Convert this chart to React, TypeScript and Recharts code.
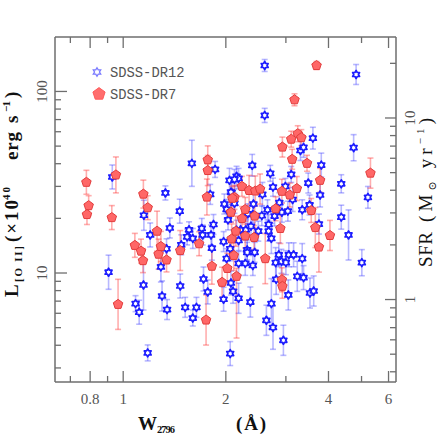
import React from 'react';
import { ScatterChart, Scatter, XAxis, YAxis, ErrorBar } from 'recharts';

const W = 447;
const H = 436;

// SDSS-DR12 absorbers: [W2796 (Å), L[OII] (1e40 erg/s), error (dex)]
const dr12: number[][] = [
  [2.60, 139, 0.033], [4.82, 124, 0.055], [2.60, 73.8, 0.039], [3.60, 55.3, 0.06],
  [4.74, 49.0, 0.072], [1.59, 40.2, 0.127], [3.31, 47.3, 0.055], [3.38, 49.2, 0.055],
  [3.81, 39.3, 0.066], [0.929, 33.8, 0.066], [1.86, 37.2, 0.044], [2.39, 39.2, 0.06],
  [2.70, 35.4, 0.044], [2.05, 32.4, 0.066], [2.15, 34.1, 0.055], [2.18, 33.2, 0.055],
  [2.12, 32.8, 0.055], [3.11, 34.9, 0.044], [2.75, 29.7, 0.05], [3.49, 31.3, 0.055],
  [4.36, 31.0, 0.05], [1.33, 27.6, 0.039], [1.80, 27.1, 0.055], [2.08, 27.7, 0.066],
  [2.56, 27.1, 0.066], [2.99, 30.0, 0.044], [3.78, 26.9, 0.066], [5.22, 26.1, 0.06],
  [1.465, 21.9, 0.066], [1.15, 20.8, 0.083], [1.98, 24.0, 0.055], [2.01, 22.4, 0.055],
  [2.12, 24.2, 0.055], [2.41, 24.0, 0.066], [2.87, 24.4, 0.055], [2.65, 22.3, 0.055],
  [2.92, 21.6, 0.055], [3.04, 21.9, 0.055], [3.35, 22.3, 0.055], [3.52, 23.7, 0.055],
  [3.14, 25.4, 0.066], [4.36, 20.3, 0.066], [2.40, 21.0, 0.044], [0.906, 10.1, 0.094],
  [1.087, 6.78, 0.044], [1.114, 6.08, 0.066], [1.147, 8.59, 0.138], [1.20, 16.2, 0.066],
  [1.18, 3.63, 0.044], [1.37, 17.7, 0.055], [1.34, 13.6, 0.055], [1.29, 10.8, 0.083],
  [1.30, 7.47, 0.083], [1.345, 6.29, 0.055], [1.48, 14.3, 0.055], [1.47, 8.48, 0.066],
  [1.52, 6.47, 0.055], [1.54, 15.8, 0.044], [1.56, 17.3, 0.044], [1.60, 15.5, 0.055],
  [1.64, 6.47, 0.055], [1.60, 5.65, 0.044], [1.70, 17.6, 0.055], [1.71, 16.2, 0.055],
  [1.82, 13.7, 0.066], [1.84, 18.5, 0.055], [1.81, 16.2, 0.055], [1.72, 9.27, 0.066],
  [1.77, 7.86, 0.066], [2.03, 19.6, 0.055], [1.97, 14.9, 0.055], [2.01, 12.0, 0.055],
  [2.06, 13.6, 0.066], [2.07, 8.81, 0.066], [2.10, 7.93, 0.066], [1.97, 7.17, 0.066],
  [2.06, 3.60, 0.066], [2.18, 15.1, 0.055], [2.18, 11.3, 0.066], [2.18, 7.26, 0.083],
  [2.21, 17.3, 0.055], [2.29, 17.3, 0.055], [2.31, 13.4, 0.055], [2.31, 13.0, 0.055],
  [2.28, 11.3, 0.066], [2.36, 6.92, 0.083], [2.32, 21.2, 0.055], [2.40, 11.0, 0.055],
  [2.43, 13.0, 0.055], [2.49, 17.0, 0.055], [2.55, 20.7, 0.055], [2.67, 18.5, 0.055],
  [2.67, 17.0, 0.055], [2.72, 15.5, 0.083], [2.63, 5.49, 0.083], [2.72, 6.78, 0.138],
  [2.75, 5.01, 0.12], [2.78, 20.6, 0.055], [2.80, 11.4, 0.083], [2.81, 9.23, 0.083],
  [2.86, 12.6, 0.066], [2.91, 11.6, 0.066], [3.00, 11.4, 0.066], [3.06, 12.6, 0.066],
  [3.05, 7.57, 0.083], [2.95, 4.26, 0.083], [3.24, 9.59, 0.083], [3.35, 12.0, 0.083],
  [3.38, 9.43, 0.066], [3.53, 7.76, 0.083], [3.62, 7.96, 0.083], [3.75, 18.6, 0.055],
  [4.58, 16.2, 0.138], [5.01, 11.4, 0.072], [3.16, 12.6, 0.066], [2.07, 21.7, 0.055],
  [2.07, 27.9, 0.066], [2.37, 18.1, 0.055], [2.15, 17.2, 0.055],
];

// SDSS-DR7 absorbers: [W2796 (Å), L[OII] (1e40 erg/s), lower error (dex), upper error (dex)]
const dr7: number[][] = [
  [3.69, 139, 0.022, 0.022], [3.18, 90.0, 0.033, 0.033], [3.25, 58.5, 0.044, 0.044],
  [3.11, 54.6, 0.044, 0.044], [3.33, 55.7, 0.044, 0.044], [2.93, 49.4, 0.055, 0.055],
  [3.13, 42.3, 0.055, 0.055], [3.46, 40.2, 0.044, 0.044], [1.77, 42.0, 0.077, 0.077],
  [1.77, 36.7, 0.083, 0.083], [1.76, 26.2, 0.099, 0.099], [0.952, 34.7, 0.099, 0.099],
  [0.78, 31.6, 0.066, 0.066], [5.31, 35.5, 0.083, 0.083], [3.78, 32.4, 0.066, 0.066],
  [0.792, 23.5, 0.055, 0.055], [0.783, 21.0, 0.055, 0.055], [1.146, 27.2, 0.077, 0.077],
  [1.18, 22.9, 0.066, 0.066], [0.926, 20.2, 0.066, 0.066], [2.23, 30.0, 0.055, 0.055],
  [2.34, 28.5, 0.083, 0.083], [2.44, 28.3, 0.083, 0.083], [2.52, 29.0, 0.083, 0.083],
  [2.92, 28.2, 0.066, 0.066], [3.08, 26.9, 0.066, 0.066], [3.23, 29.2, 0.066, 0.066],
  [2.12, 26.1, 0.066, 0.066], [2.09, 25.8, 0.066, 0.066], [2.07, 21.6, 0.055, 0.055],
  [2.28, 22.4, 0.066, 0.066], [2.43, 20.6, 0.066, 0.066], [2.80, 22.6, 0.066, 0.066],
  [3.56, 22.1, 0.066, 0.066], [2.23, 19.95, 0.066, 0.066], [0.966, 6.72, 0.138, 0.138],
  [1.082, 14.2, 0.066, 0.066], [1.128, 13.2, 0.066, 0.066], [1.143, 11.7, 0.066, 0.066],
  [1.257, 17.0, 0.11, 0.11], [1.27, 12.7, 0.083, 0.083], [1.29, 14.0, 0.083, 0.083],
  [1.34, 11.8, 0.066, 0.066], [1.47, 13.3, 0.11, 0.11], [1.67, 14.5, 0.066, 0.066],
  [1.75, 5.51, 0.138, 0.138], [1.82, 10.9, 0.099, 0.099], [1.95, 8.89, 0.083, 0.083],
  [2.02, 10.6, 0.083, 0.083], [2.08, 15.4, 0.083, 0.083], [2.11, 12.5, 0.083, 0.083],
  [2.14, 17.0, 0.083, 0.083], [2.15, 9.59, 0.34, 0.044], [2.28, 16.0, 0.066, 0.066],
  [2.42, 15.7, 0.066, 0.066], [2.61, 12.0, 0.138, 0.138], [2.89, 17.6, 0.083, 0.083],
  [2.92, 9.18, 0.066, 0.066], [2.93, 8.45, 0.066, 0.066], [3.66, 17.8, 0.11, 0.11],
  [3.75, 13.9, 0.138, 0.138], [4.04, 16.1, 0.083, 0.083],
];

const xDomain = [0.631, 6.31];
const yDomain = [2.51, 199.5];
const sfrFactor = 0.14;
const xTicks = [0.7, 0.8, 0.9, 1, 2, 3, 4, 5, 6];
const xLabeled = [0.8, 1, 2, 4, 6];
const yTicks = [3, 4, 5, 6, 7, 8, 9, 10, 20, 30, 40, 50, 60, 70, 80, 90, 100];
const yLabeled = [10, 100];
const sfrTicks = [0.4, 0.5, 0.6, 0.7, 0.8, 0.9, 1, 2, 3, 4, 5, 6, 7, 8, 9, 10, 20];
const sfrLabeled = [1, 10];

const dr12Data = dr12.map(([w, l, e]) => ({ w, l, err: [l - l * Math.pow(10, -e), l * Math.pow(10, e) - l] }));
const dr7Data = dr7.map(([w, l, lo, hi]) => ({ w, l, err: [l - l * Math.pow(10, -lo), l * Math.pow(10, hi) - l] }));

const AXIS = '#6e6e6e';
const TICKTXT = '#555';
const TICKFONT = 'Liberation Serif, DejaVu Serif, serif';
const MAJ = 11;
const MIN = 6;

function hexagram(cx: number, cy: number, r: number) {
  const ri = r / Math.sqrt(3);
  let d = '';
  for (let i = 0; i < 12; i++) {
    const rr = i % 2 === 0 ? r : ri;
    const a = ((-90 + i * 30) * Math.PI) / 180;
    d += (i === 0 ? 'M' : 'L') + (cx + rr * Math.cos(a)).toFixed(2) + ',' + (cy + rr * Math.sin(a)).toFixed(2);
  }
  return d + 'Z';
}

function pentagon(cx: number, cy: number, r: number) {
  let d = '';
  for (let i = 0; i < 5; i++) {
    const a = ((-90 + i * 72) * Math.PI) / 180;
    d += (i === 0 ? 'M' : 'L') + (cx + r * Math.cos(a)).toFixed(2) + ',' + (cy + r * Math.sin(a)).toFixed(2);
  }
  return d + 'Z';
}

const BlueStar = (p: any) => (
  <path d={hexagram(p.cx, p.cy, 4.0)} fill="#ffffff" stroke="#1c1cff" strokeWidth={1.7} strokeLinejoin="round" />
);
const RedPentagon = (p: any) => (
  <path d={pentagon(p.cx, p.cy, 5.0)} fill="#ff6767" stroke="#e23c3c" strokeWidth={1} strokeLinejoin="round" />
);

const BottomTick = (p: any) => {
  const v = p.payload.value;
  const major = xLabeled.includes(v);
  return (
    <g>
      <line x1={p.x} x2={p.x} y1={p.y} y2={p.y - (major ? MAJ : MIN)} stroke={AXIS} strokeWidth={1.3} />
      {major && (
        <text x={p.x} y={p.y + 22} textAnchor="middle" fontFamily={TICKFONT} fontSize={15} fill={TICKTXT}>
          {String(v)}
        </text>
      )}
    </g>
  );
};

const TopTick = (p: any) => {
  const v = p.payload.value;
  const major = xLabeled.includes(v);
  return <line x1={p.x} x2={p.x} y1={p.y} y2={p.y + (major ? MAJ : MIN)} stroke={AXIS} strokeWidth={1.3} />;
};

const LeftTick = (p: any) => {
  const v = p.payload.value;
  const major = yLabeled.includes(v);
  const lx = p.x - 13;
  return (
    <g>
      <line x1={p.x} x2={p.x + (major ? MAJ + 1 : MIN)} y1={p.y} y2={p.y} stroke={AXIS} strokeWidth={1.3} />
      {major && (
        <text x={lx} y={p.y} transform={`rotate(-90, ${lx}, ${p.y})`} textAnchor="middle" dy="0.35em"
          fontFamily={TICKFONT} fontSize={15} fill={TICKTXT}>
          {String(v)}
        </text>
      )}
    </g>
  );
};

const RightTick = (p: any) => {
  const v = p.payload.value;
  const major = sfrLabeled.includes(v);
  const lx = p.x + 14;
  return (
    <g>
      <line x1={p.x} x2={p.x - (major ? MAJ : MIN)} y1={p.y} y2={p.y} stroke={AXIS} strokeWidth={1.3} />
      {major && (
        <text x={lx} y={p.y} transform={`rotate(-90, ${lx}, ${p.y})`} textAnchor="middle" dy="0.35em"
          fontFamily={TICKFONT} fontSize={15} fill={TICKTXT}>
          {String(v)}
        </text>
      )}
    </g>
  );
};

const axisLine = { stroke: AXIS, strokeWidth: 1.5 };
const TITLE = 'Liberation Serif, DejaVu Serif, serif';

export default function App() {
  return (
    <div style={{ position: 'absolute', left: 0, top: 0, width: W, height: H, background: '#fff' }}>
      <ScatterChart width={W} height={H} margin={{ top: 27, right: 0, bottom: 0, left: 0 }}>
        <XAxis xAxisId="b" type="number" dataKey="w" scale="log" domain={xDomain} ticks={xTicks} interval={0}
          allowDataOverflow orientation="bottom" height={54} tickSize={0} tickMargin={0} tickLine={false}
          axisLine={axisLine} tick={(p: any) => <BottomTick {...p} />} />
        <XAxis xAxisId="t" type="number" dataKey="w" scale="log" domain={xDomain} ticks={xTicks} interval={0}
          allowDataOverflow orientation="top" height={10} tickSize={0} tickMargin={0} tickLine={false}
          axisLine={axisLine} tick={(p: any) => <TopTick {...p} />} />
        <YAxis yAxisId="l" type="number" dataKey="l" scale="log" domain={yDomain} ticks={yTicks} interval={0}
          allowDataOverflow orientation="left" width={55} tickSize={0} tickMargin={0} tickLine={false}
          axisLine={axisLine} tick={(p: any) => <LeftTick {...p} />} />
        <YAxis yAxisId="r" type="number" scale="log" domain={[yDomain[0] * sfrFactor, yDomain[1] * sfrFactor]}
          ticks={sfrTicks} interval={0} allowDataOverflow orientation="right" width={51} tickSize={0}
          tickMargin={0} tickLine={false} axisLine={axisLine} tick={(p: any) => <RightTick {...p} />} />
        <Scatter xAxisId="b" yAxisId="l" data={dr12Data} isAnimationActive={false} shape={(p: any) => <BlueStar {...p} />}>
          <ErrorBar dataKey="err" direction="y" width={3} stroke="#3535ff" strokeOpacity={0.35} strokeWidth={1.6} />
        </Scatter>
        <Scatter xAxisId="b" yAxisId="l" data={dr7Data} isAnimationActive={false} shape={(p: any) => <RedPentagon {...p} />}>
          <ErrorBar dataKey="err" direction="y" width={3} stroke="#ff3535" strokeOpacity={0.4} strokeWidth={1.6} />
        </Scatter>
      </ScatterChart>
      <svg width={W} height={H} style={{ position: 'absolute', left: 0, top: 0, pointerEvents: 'none' }}>
        {/* legend */}
        <path d={hexagram(97, 72, 4.3)} fill="#ffffff" stroke="#7a7aff" strokeWidth={1.3} />
        <text x={110} y={77} fontFamily="Liberation Mono, DejaVu Sans Mono, monospace" fontSize={13.8} fill="#555">SDSS-DR12</text>
        <path d={pentagon(99, 94, 6.4)} fill="#ff6e6e" stroke="#ff5a5a" strokeWidth={1} />
        <text x={110} y={98.5} fontFamily="Liberation Mono, DejaVu Sans Mono, monospace" fontSize={13.8} fill="#555">SDSS-DR7</text>

        {/* x title */}
        <text x={138} y={430} fontFamily={TITLE} fontWeight="bold" fontSize={19} fill="#111">W</text>
        <text x={157} y={433} fontFamily={TITLE} fontWeight="bold" fontSize={10.5} fill="#111" textLength={18} lengthAdjust="spacing">2796</text>
        <text x={236} y={430} fontFamily={TITLE} fontWeight="bold" fontSize={19} fill="#111" textLength={30} lengthAdjust="spacing">(Å)</text>

        {/* left title */}
        <g transform="rotate(-90)" fontFamily={TITLE} fontWeight="bold" fill="#111">
          <text x={-297} y={18} fontSize={19}>L</text>
          <text x={-282} y={22} fontSize={11} textLength={36} lengthAdjust="spacing">[O II]</text>
          <text x={-242} y={18} fontSize={19} textLength={42} lengthAdjust="spacing">(×10</text>
          <text x={-200} y={10} fontSize={11} textLength={13} lengthAdjust="spacing">40</text>
          <text x={-160} y={18} fontSize={19} textLength={28} lengthAdjust="spacing">erg</text>
          <text x={-123} y={18} fontSize={19}>s</text>
          <text x={-112} y={10} fontSize={11} textLength={11} lengthAdjust="spacing">−1</text>
          <text x={-98} y={18} fontSize={19}>)</text>
        </g>

        {/* right title */}
        <g transform="rotate(-90)" fontFamily={TITLE} fill="#111">
          <text x={-267} y={432} fontSize={19} textLength={35} lengthAdjust="spacing">SFR</text>
          <text x={-222} y={432} fontSize={19} textLength={104} lengthAdjust="spacing" style={{ whiteSpace: 'pre' }}>
            (M<tspan fontSize={11} dy={4}>⊙</tspan><tspan dy={-4}> yr</tspan><tspan fontSize={11} dy={-8}>−1</tspan><tspan dy={8}>)</tspan>
          </text>
        </g>
      </svg>
    </div>
  );
}
